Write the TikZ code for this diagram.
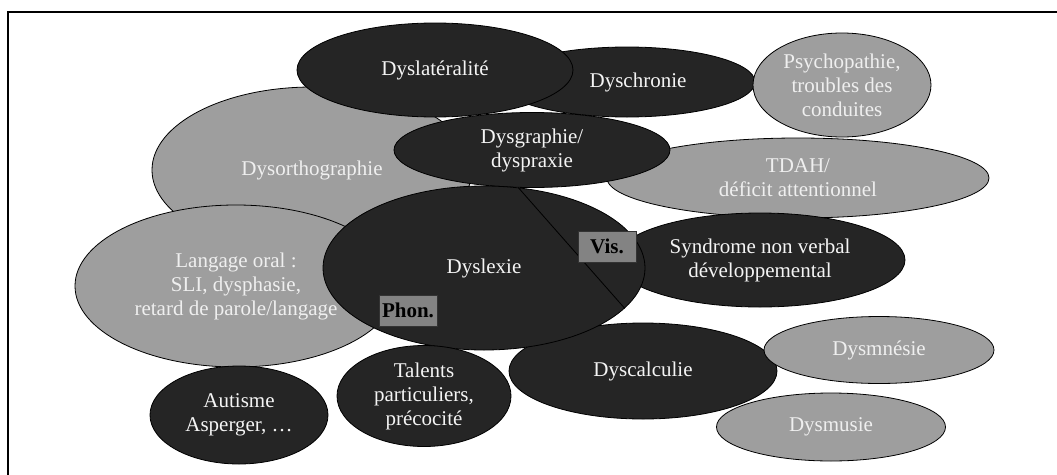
\documentclass[tikz,border=0pt]{standalone}
\usepackage{fontspec}
\setmainfont{Liberation Serif}
\usetikzlibrary{shapes.geometric}
\definecolor{dk}{HTML}{252525}
\definecolor{gr}{HTML}{9E9E9E}
\definecolor{bx}{HTML}{838383}
\definecolor{tw}{HTML}{F4F4F4}
\definecolor{tg}{HTML}{EFEFEF}
\tikzset{
  base/.style={ellipse, draw=black, line width=0.8pt, inner sep=0pt, align=center,
    font=\fontsize{21}{24}\selectfont},
  darkell/.style={base, fill=dk, text=tw},
  grayell/.style={base, fill=gr, text=tg},
  tagbox/.style={rectangle, draw=black!80, line width=0.6pt, fill=bx, text=black,
    inner sep=0pt, font=\fontsize{21}{24}\selectfont\bfseries},
  sz/.style 2 args={minimum width=#1pt, minimum height=#2pt}
}
\begin{document}
\begin{tikzpicture}[x=1pt, y=-1pt]
\useasboundingbox (0,0) rectangle (1057,474);
\fill[white] (0,0) rectangle (1057,474);
% frame
\coordinate (fbl) at (8,476);
\coordinate (ftl) at (8,12);
\coordinate (ftr) at (1059,12);
\draw[line width=2pt] (fbl) -- (ftl) -- (ftr);

\node[grayell, sz={320}{166}] (dysortho) at (312,170) {Dysorthographie};
\node[grayell, sz={322}{162}] (langage) at (236,286) {Langage oral :\\SLI, dysphasie,\\retard de parole/langage};
\node[darkell, sz={178}{98}] (autisme) at (239,415) {Autisme\\Asperger, \dots};
\node[darkell, sz={256}{70}] (dyschronie) at (627,82) {\hspace*{22pt}Dyschronie};
\node[darkell, sz={276}{94}] (dyslat) at (435,70) {Dyslatéralité};
\node[grayell, sz={382}{80}] (tdah) at (798,178) {TDAH/\\déficit attentionnel};
\node[darkell, sz={276}{75}] (dysgraph) at (532,150) {Dysgraphie/\\dyspraxie};
\node[grayell, sz={178}{104}] (psycho) at (842,85) {Psychopathie,\\troubles des\\conduites};
\node[darkell, sz={290}{94}] (syndrome) at (760,260) {Syndrome non verbal\\développemental};
\node[darkell, sz={268}{96}] (dyscalc) at (643,371) {Dyscalculie};
\node[darkell, sz={322}{164}] (dyslexie) at (484,268) {Dyslexie};
\draw[line width=0.8pt, black] (dyslexie.67.6) -- (dyslexie.-16);
\node[tagbox, sz={58}{31}] (vis) at (607,246.5) {Vis.};
\node[tagbox, sz={58}{31}] (phon) at (408,310.5) {Phon.};
\node[darkell, sz={174}{101}] (talents) at (424,396) {Talents\\particuliers,\\précocité};
\node[grayell, sz={230}{67}] (dysmnesie) at (879,350) {Dysmnésie};
\node[grayell, sz={229}{68}] (dysmusie) at (831,427) {Dysmusie};
\end{tikzpicture}
\end{document}
